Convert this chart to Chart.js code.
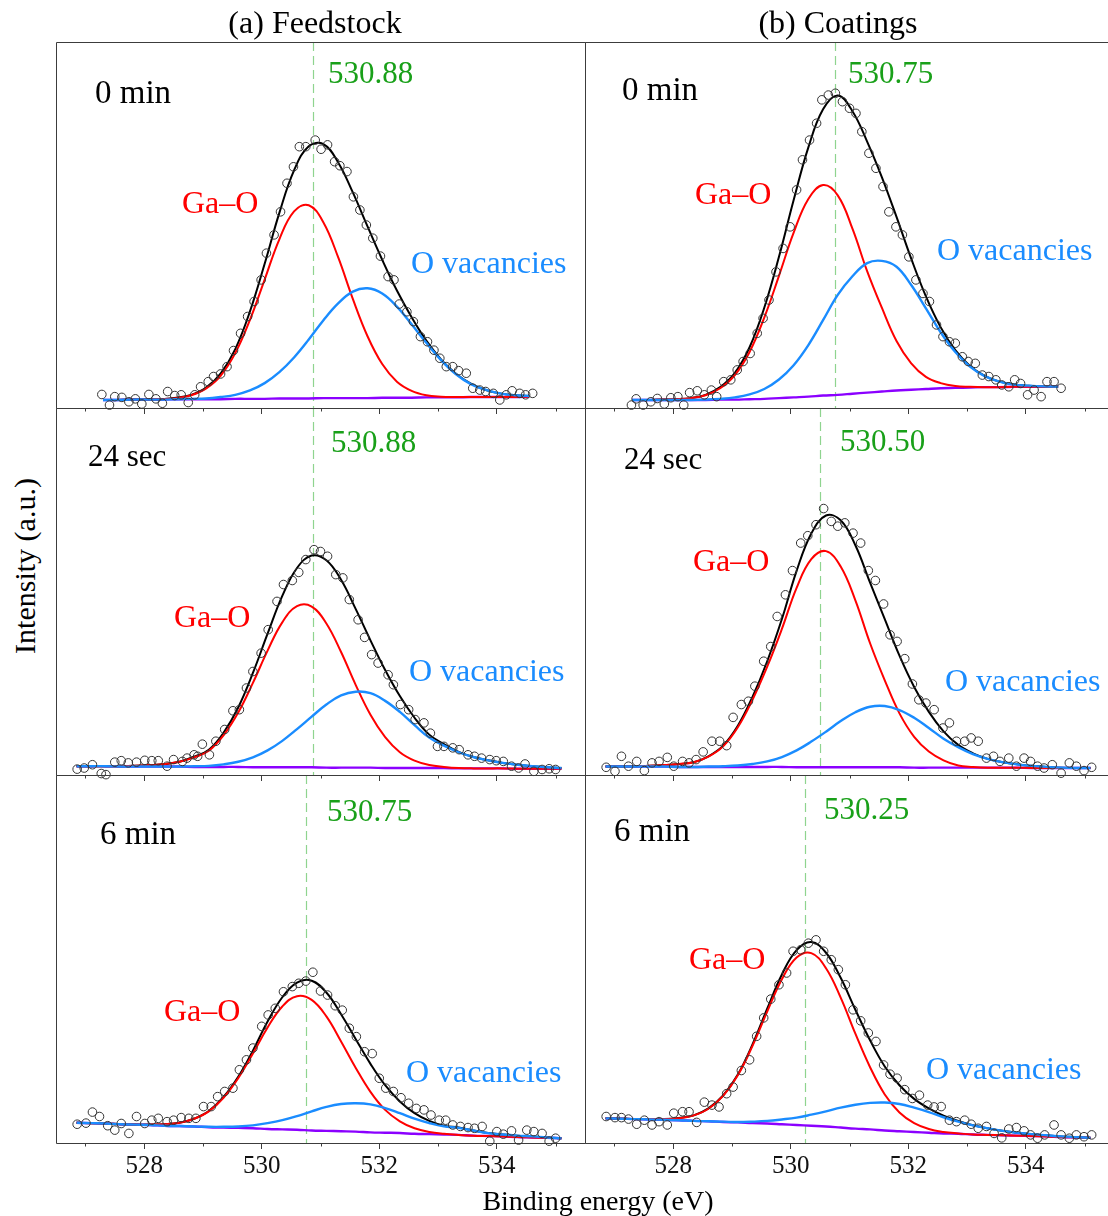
<!DOCTYPE html>
<html>
<head>
<meta charset="utf-8">
<title>O 1s XPS - feedstock vs coatings</title>
<script src="https://cdn.jsdelivr.net/npm/chart.js@4.4.1/dist/chart.umd.min.js"></script>
<style>
  html, body { margin: 0; padding: 0; background: #fff; }
  body { position: relative; width: 1108px; height: 1216px; overflow: hidden;
         font-family: "Liberation Serif", "Times New Roman", serif; }
  canvas { position: absolute; }
  .lbl { position: absolute; white-space: nowrap; line-height: 1; transform: translateY(-50%); }
  .ctr { transform: translate(-50%, -50%); }
</style>
</head>
<body>
<script>
// ---- axis / labels ----
const tickValues = [527, 528, 529, 530, 531, 532, 533, 534, 535];
const tickLabels = [528, 530, 532, 534];
const columnTitles = ['(a) Feedstock', '(b) Coatings'];
const timeLabels = ['0 min', '24 sec', '6 min'];
// order: a-0min, b-0min, a-24sec, b-24sec, a-6min, b-6min
const peakPositions = [530.88, 530.75, 530.88, 530.50, 530.75, 530.25];

// ---- fitted curves, energy grids (eV) ----
const fitEnergyNarrow = [527.30, 527.55, 527.80, 528.05, 528.30, 528.55, 528.80, 529.05, 529.30, 529.55, 529.80, 530.05, 530.30, 530.55, 530.80, 531.05, 531.30, 531.55, 531.80, 532.05, 532.30, 532.55, 532.80, 533.05, 533.30, 533.55, 533.80, 534.05, 534.30, 534.55];
const fitEnergyWide = [526.85, 527.10, 527.35, 527.60, 527.85, 528.10, 528.35, 528.60, 528.85, 529.10, 529.35, 529.60, 529.85, 530.10, 530.35, 530.60, 530.85, 531.10, 531.35, 531.60, 531.85, 532.10, 532.35, 532.60, 532.85, 533.10, 533.35, 533.60, 533.85, 534.10, 534.35, 534.60, 534.85, 535.10];

// (a) feedstock, 0 min
const a0Background = [2.2, 2.2, 2.3, 2.3, 2.3, 2.4, 2.4, 2.4, 2.4, 2.5, 2.5, 2.5, 2.6, 2.6, 2.6, 2.7, 2.7, 2.7, 2.7, 2.8, 2.8, 2.8, 2.9, 2.9, 2.9, 3.0, 3.0, 3.0, 3.0, 3.1];
const a0GaO = [2.2, 2.2, 2.3, 2.3, 2.4, 2.7, 3.5, 5.3, 8.8, 15.0, 24.1, 35.1, 46.1, 53.7, 55.4, 50.7, 41.2, 29.8, 19.6, 12.0, 7.2, 4.7, 3.5, 3.1, 3.0, 3.0, 3.0, 3.0, 3.0, 3.1];
const a0Vacancy = [2.2, 2.2, 2.3, 2.3, 2.3, 2.4, 2.5, 2.6, 3.0, 3.6, 4.8, 6.8, 9.8, 13.8, 18.7, 24.0, 28.6, 31.8, 32.7, 31.3, 27.7, 22.9, 17.8, 13.1, 9.3, 6.6, 5.0, 4.0, 3.5, 3.3];
const a0Envelope = [2.2, 2.2, 2.3, 2.3, 2.4, 2.8, 3.6, 5.5, 9.4, 16.1, 26.4, 39.4, 53.3, 64.9, 71.5, 72.1, 67.1, 58.9, 49.6, 40.5, 32.1, 24.8, 18.4, 13.3, 9.4, 6.7, 5.0, 4.0, 3.5, 3.3];
const a0ScanEnergy = [527.28, 527.41, 527.50, 527.62, 527.74, 527.85, 527.96, 528.08, 528.20, 528.31, 528.40, 528.52, 528.63, 528.75, 528.86, 528.96, 529.09, 529.18, 529.30, 529.41, 529.52, 529.64, 529.76, 529.87, 529.99, 530.08, 530.21, 530.32, 530.43, 530.54, 530.64, 530.75, 530.91, 531.01, 531.12, 531.24, 531.33, 531.45, 531.56, 531.67, 531.78, 531.89, 532.02, 532.15, 532.25, 532.34, 532.47, 532.58, 532.70, 532.82, 532.93, 533.03, 533.14, 533.25, 533.35, 533.48, 533.59, 533.71, 533.81, 533.94, 534.05, 534.16, 534.26, 534.39, 534.49, 534.61];
const a0ScanCounts = [3.7, 0.8, 3.1, 2.9, 1.7, 2.5, 1.1, 3.7, 2.5, 1.3, 4.5, 3.4, 3.6, 1.5, 3.6, 5.8, 7.2, 8.6, 9.3, 11.3, 15.7, 20.4, 25.0, 29.1, 35.0, 42.3, 47.3, 53.6, 61.4, 65.9, 71.4, 71.4, 73.2, 70.7, 71.9, 67.3, 66.2, 64.6, 57.7, 54.1, 50.0, 46.4, 41.5, 35.9, 35.0, 28.4, 26.3, 23.6, 19.5, 18.1, 15.8, 13.6, 11.3, 11.3, 10.2, 9.5, 5.4, 4.9, 4.5, 4.0, 2.2, 3.6, 4.7, 4.0, 3.6, 4.0];

// (b) coatings, 0 min
const b0Background = [2.2, 2.2, 2.2, 2.2, 2.2, 2.2, 2.3, 2.3, 2.4, 2.5, 2.7, 2.9, 3.1, 3.4, 3.6, 3.9, 4.2, 4.5, 4.8, 5.0, 5.2, 5.4, 5.5, 5.6, 5.7, 5.7, 5.8, 5.8, 5.8, 5.8];
const b0GaO = [2.2, 2.2, 2.3, 2.4, 2.7, 3.5, 5.4, 9.0, 15.3, 24.7, 36.1, 47.9, 57.1, 60.9, 58.1, 49.0, 37.4, 27.4, 18.3, 12.2, 8.5, 6.8, 6.0, 5.8, 5.7, 5.7, 5.8, 5.8, 5.8, 5.8];
const b0Vacancy = [2.2, 2.2, 2.2, 2.2, 2.2, 2.3, 2.5, 2.9, 3.7, 5.2, 7.8, 11.7, 17.2, 24.0, 30.9, 36.0, 39.6, 40.2, 38.6, 33.6, 27.2, 20.7, 15.3, 11.3, 8.7, 7.2, 6.4, 6.1, 5.9, 5.8];
const b0Envelope = [2.2, 2.2, 2.3, 2.4, 2.7, 3.6, 5.7, 9.6, 16.6, 27.4, 41.3, 56.8, 71.2, 81.6, 85.4, 81.1, 72.8, 63.1, 52.2, 40.8, 30.5, 22.1, 15.8, 11.5, 8.8, 7.2, 6.4, 6.1, 5.9, 5.8];
const b0ScanEnergy = [527.29, 527.37, 527.49, 527.62, 527.73, 527.85, 527.96, 528.08, 528.18, 528.28, 528.41, 528.53, 528.65, 528.74, 528.86, 528.98, 529.09, 529.19, 529.31, 529.43, 529.53, 529.63, 529.75, 529.87, 529.99, 530.10, 530.20, 530.32, 530.44, 530.53, 530.64, 530.76, 530.88, 531.00, 531.11, 531.21, 531.33, 531.45, 531.57, 531.67, 531.79, 531.90, 532.01, 532.13, 532.25, 532.36, 532.48, 532.59, 532.70, 532.80, 532.92, 533.02, 533.14, 533.26, 533.37, 533.49, 533.59, 533.71, 533.81, 533.91, 534.03, 534.14, 534.26, 534.36, 534.48, 534.60];
const b0ScanCounts = [0.8, 2.5, 0.8, 1.7, 2.6, 1.1, 2.8, 3.1, 0.8, 4.2, 4.7, 3.6, 4.9, 3.1, 7.2, 7.7, 10.4, 12.7, 14.9, 20.4, 24.5, 29.5, 37.2, 43.6, 49.5, 59.6, 67.8, 73.2, 77.8, 84.2, 85.5, 86.0, 83.7, 81.9, 80.5, 75.5, 69.6, 65.5, 60.5, 53.6, 49.5, 47.3, 41.3, 35.0, 31.3, 29.1, 22.7, 19.5, 18.1, 17.7, 14.0, 12.7, 12.2, 9.0, 8.6, 7.7, 6.3, 5.8, 7.7, 6.7, 3.6, 4.9, 3.1, 7.2, 7.2, 5.4];

// (a) feedstock, 24 sec
const a24Background = [2.4, 2.4, 2.4, 2.3, 2.3, 2.3, 2.3, 2.3, 2.2, 2.2, 2.2, 2.2, 2.1, 2.1, 2.1, 2.1, 2.1, 2.0, 2.0, 2.0, 2.0, 1.9, 1.9, 1.9, 1.9, 1.9, 1.8, 1.8, 1.8, 1.8, 1.7, 1.7, 1.7, 1.7];
const a24GaO = [2.4, 2.4, 2.4, 2.4, 2.5, 2.7, 3.0, 3.6, 4.8, 6.6, 10.8, 17.0, 25.1, 33.9, 41.6, 46.0, 45.9, 41.3, 33.5, 24.5, 16.4, 10.3, 6.2, 3.9, 2.7, 2.2, 1.9, 1.8, 1.8, 1.8, 1.7, 1.7, 1.7, 1.7];
const a24Vacancy = [2.4, 2.4, 2.4, 2.3, 2.3, 2.3, 2.3, 2.3, 2.4, 2.5, 2.9, 3.6, 4.8, 6.7, 9.3, 12.5, 15.9, 19.2, 21.7, 22.7, 22.3, 20.2, 17.2, 13.6, 10.2, 8.0, 6.2, 4.9, 4.0, 3.3, 2.8, 2.4, 2.1, 1.9];
const a24Envelope = [2.4, 2.4, 2.4, 2.4, 2.5, 2.7, 3.0, 3.6, 5.0, 6.9, 11.5, 18.4, 27.8, 38.5, 48.8, 56.4, 59.8, 58.5, 53.2, 45.2, 36.7, 28.6, 21.5, 15.6, 11.0, 8.4, 6.3, 4.9, 4.0, 3.3, 2.8, 2.4, 2.1, 1.9];
const a24ScanEnergy = [526.86, 526.98, 527.12, 527.27, 527.35, 527.50, 527.61, 527.73, 527.87, 528.01, 528.13, 528.24, 528.39, 528.50, 528.65, 528.73, 528.85, 528.91, 528.99, 529.11, 529.22, 529.37, 529.51, 529.62, 529.74, 529.85, 529.99, 530.11, 530.26, 530.37, 530.52, 530.63, 530.75, 530.89, 531.00, 531.12, 531.26, 531.38, 531.49, 531.64, 531.75, 531.87, 531.98, 532.15, 532.24, 532.36, 532.50, 532.61, 532.76, 532.87, 532.99, 533.10, 533.25, 533.36, 533.51, 533.62, 533.74, 533.88, 533.99, 534.11, 534.25, 534.37, 534.48, 534.63, 534.77, 534.89, 535.00];
const a24ScanCounts = [1.6, 1.9, 2.8, 0.4, 0.1, 3.5, 3.9, 3.3, 3.5, 4.0, 3.9, 3.9, 2.4, 4.2, 3.7, 4.6, 5.5, 5.1, 8.4, 5.5, 9.2, 12.4, 17.5, 17.8, 23.7, 28.2, 33.2, 39.6, 47.3, 51.9, 53.0, 55.2, 58.7, 61.4, 60.9, 59.6, 54.6, 53.7, 47.8, 42.3, 37.5, 32.8, 30.5, 27.3, 24.6, 19.2, 17.8, 15.1, 14.2, 11.4, 7.8, 7.8, 7.4, 6.9, 5.5, 5.1, 4.6, 4.2, 3.9, 3.7, 2.4, 1.9, 3.0, 1.0, 1.5, 1.7, 1.5];

// (b) coatings, 24 sec
const b24Background = [2.3, 2.3, 2.3, 2.3, 2.3, 2.2, 2.2, 2.2, 2.2, 2.2, 2.2, 2.2, 2.2, 2.1, 2.1, 2.1, 2.1, 2.1, 2.1, 2.1, 2.1, 2.0, 2.0, 2.0, 2.0, 2.0, 2.0, 2.0, 2.0, 1.9, 1.9, 1.9, 1.9, 1.9];
const b24GaO = [2.3, 2.3, 2.4, 2.5, 2.7, 3.0, 3.5, 5.0, 7.8, 13.0, 20.5, 29.5, 39.8, 51.0, 58.8, 61.0, 56.8, 47.6, 35.9, 25.8, 16.8, 10.4, 6.4, 4.0, 2.6, 2.2, 2.0, 2.0, 2.0, 1.9, 1.9, 1.9, 1.9, 1.9];
const b24Vacancy = [2.3, 2.3, 2.3, 2.3, 2.3, 2.2, 2.2, 2.3, 2.4, 2.6, 3.0, 3.7, 4.9, 6.7, 9.1, 11.8, 14.7, 17.1, 18.6, 18.8, 17.7, 15.6, 12.8, 9.9, 7.6, 5.7, 4.4, 3.5, 2.9, 2.5, 2.2, 2.0, 1.9, 1.9];
const b24Envelope = [2.3, 2.3, 2.4, 2.5, 2.7, 3.0, 3.5, 5.1, 8.0, 13.4, 21.3, 31.0, 42.5, 55.6, 65.8, 70.7, 69.4, 62.6, 52.4, 42.5, 32.5, 24.0, 17.2, 11.9, 8.2, 5.9, 4.4, 3.5, 2.9, 2.5, 2.2, 2.0, 1.9, 1.9];
const b24ScanEnergy = [526.86, 527.01, 527.12, 527.24, 527.38, 527.51, 527.64, 527.76, 527.90, 528.01, 528.16, 528.27, 528.39, 528.51, 528.66, 528.79, 528.91, 529.02, 529.16, 529.28, 529.39, 529.54, 529.66, 529.77, 529.91, 530.03, 530.17, 530.29, 530.43, 530.56, 530.69, 530.80, 530.92, 531.06, 531.19, 531.32, 531.44, 531.58, 531.69, 531.81, 531.94, 532.07, 532.18, 532.30, 532.44, 532.59, 532.70, 532.82, 532.96, 533.07, 533.19, 533.33, 533.45, 533.56, 533.71, 533.84, 533.97, 534.08, 534.20, 534.31, 534.45, 534.60, 534.74, 534.86, 534.99, 535.12];
const b24ScanCounts = [2.1, 1.0, 5.1, 2.4, 3.7, 1.2, 3.3, 3.7, 4.8, 2.4, 3.7, 3.3, 4.2, 6.3, 9.2, 9.2, 8.0, 15.7, 19.2, 20.1, 24.2, 31.0, 35.0, 43.2, 49.1, 55.7, 63.2, 65.2, 68.2, 72.6, 69.1, 67.8, 68.7, 65.9, 63.2, 55.7, 53.0, 46.6, 38.2, 36.4, 31.7, 24.8, 20.5, 19.6, 17.8, 12.8, 14.2, 9.2, 9.2, 10.1, 9.2, 4.6, 5.1, 3.7, 4.6, 2.4, 4.6, 3.7, 2.4, 1.9, 2.8, 0.5, 3.3, 2.4, 1.2, 2.1];

// (a) feedstock, 6 min
const a6Background = [5.5, 5.4, 5.3, 5.1, 5.0, 4.9, 4.7, 4.6, 4.5, 4.3, 4.2, 4.1, 4.0, 3.8, 3.7, 3.6, 3.4, 3.3, 3.2, 3.1, 2.9, 2.8, 2.7, 2.5, 2.4, 2.3, 2.2, 2.0, 1.9, 1.8, 1.6, 1.5, 1.4, 1.3];
const a6GaO = [5.5, 5.4, 5.3, 5.1, 5.0, 5.0, 5.1, 5.5, 6.6, 8.6, 12.3, 17.6, 24.3, 31.4, 37.1, 39.9, 38.9, 34.4, 27.6, 20.4, 13.9, 9.0, 5.9, 4.0, 3.0, 2.5, 2.2, 2.0, 1.9, 1.8, 1.6, 1.5, 1.4, 1.3];
const a6Vacancy = [5.5, 5.4, 5.3, 5.1, 5.0, 4.9, 4.7, 4.6, 4.5, 4.4, 4.4, 4.5, 4.8, 5.4, 6.2, 7.3, 8.6, 9.8, 10.6, 10.8, 10.5, 9.5, 8.1, 6.6, 5.4, 4.5, 4.1, 3.4, 2.7, 2.3, 2.0, 1.8, 1.5, 1.3];
const a6Envelope = [5.5, 5.4, 5.3, 5.1, 5.0, 5.0, 5.1, 5.5, 6.6, 8.7, 12.5, 18.0, 25.1, 33.0, 39.6, 43.6, 44.1, 40.9, 35.0, 28.2, 21.5, 15.7, 11.3, 8.1, 6.0, 4.7, 4.2, 3.4, 2.7, 2.3, 2.0, 1.8, 1.5, 1.3];
const a6ScanEnergy = [526.86, 527.01, 527.12, 527.24, 527.38, 527.50, 527.61, 527.74, 527.87, 528.01, 528.13, 528.24, 528.39, 528.50, 528.63, 528.76, 528.88, 529.01, 529.14, 529.25, 529.37, 529.51, 529.62, 529.74, 529.85, 530.00, 530.11, 530.23, 530.37, 530.52, 530.63, 530.75, 530.87, 531.00, 531.12, 531.25, 531.37, 531.49, 531.61, 531.75, 531.88, 532.00, 532.11, 532.24, 532.37, 532.50, 532.63, 532.76, 532.88, 533.02, 533.13, 533.25, 533.38, 533.51, 533.62, 533.75, 533.88, 534.00, 534.11, 534.25, 534.37, 534.51, 534.63, 534.77, 534.89, 535.00];
const a6ScanCounts = [5.1, 5.4, 8.4, 7.2, 4.7, 3.5, 5.3, 2.6, 7.2, 5.3, 6.2, 6.7, 5.8, 6.2, 6.9, 6.7, 6.7, 9.9, 9.9, 12.6, 14.0, 14.9, 19.9, 22.6, 25.8, 31.7, 34.8, 36.6, 41.1, 42.5, 43.4, 44.0, 46.4, 41.3, 40.2, 37.3, 36.1, 31.2, 28.9, 24.8, 24.3, 17.6, 14.9, 14.0, 12.3, 10.8, 9.4, 9.0, 7.6, 6.2, 6.2, 4.9, 4.5, 4.2, 4.0, 4.5, 0.5, 3.1, 2.4, 3.3, 0.8, 3.5, 3.1, 2.6, 0.5, 1.3];

// (b) coatings, 6 min
const b6Background = [6.7, 6.6, 6.5, 6.4, 6.3, 6.2, 6.0, 5.9, 5.7, 5.6, 5.4, 5.3, 5.1, 4.9, 4.7, 4.5, 4.2, 3.9, 3.7, 3.4, 3.2, 3.0, 2.8, 2.6, 2.5, 2.3, 2.2, 2.1, 2.0, 1.9, 1.8, 1.6, 1.5, 1.4];
const b6GaO = [6.7, 6.6, 6.5, 6.5, 6.5, 6.7, 7.5, 9.3, 12.8, 18.4, 26.4, 35.7, 44.5, 50.4, 51.6, 47.5, 39.5, 29.7, 20.6, 13.2, 8.3, 5.4, 3.8, 3.0, 2.6, 2.3, 2.2, 2.1, 2.0, 1.9, 1.8, 1.6, 1.5, 1.4];
const b6Vacancy = [6.7, 6.6, 6.5, 6.4, 6.3, 6.2, 6.0, 5.9, 5.8, 5.7, 5.8, 6.0, 6.4, 6.9, 7.7, 8.6, 9.6, 10.4, 10.9, 11.0, 10.6, 9.6, 8.4, 7.0, 5.8, 4.8, 4.0, 3.3, 2.8, 2.4, 2.1, 1.8, 1.6, 1.4];
const b6Envelope = [6.7, 6.6, 6.5, 6.5, 6.5, 6.8, 7.5, 9.4, 12.9, 18.6, 26.8, 36.5, 45.8, 52.4, 54.6, 51.7, 44.9, 36.2, 27.9, 20.8, 15.7, 12.0, 9.4, 7.4, 6.0, 4.8, 4.0, 3.3, 2.8, 2.4, 2.1, 1.8, 1.6, 1.4];
const b6ScanEnergy = [526.86, 527.01, 527.12, 527.24, 527.38, 527.51, 527.64, 527.76, 527.90, 528.01, 528.16, 528.27, 528.40, 528.53, 528.66, 528.78, 528.91, 529.02, 529.16, 529.30, 529.42, 529.54, 529.66, 529.80, 529.93, 530.04, 530.17, 530.30, 530.43, 530.56, 530.69, 530.81, 530.93, 531.06, 531.19, 531.32, 531.45, 531.58, 531.69, 531.81, 531.94, 532.07, 532.19, 532.33, 532.44, 532.56, 532.70, 532.82, 532.96, 533.07, 533.19, 533.33, 533.46, 533.59, 533.71, 533.84, 533.97, 534.08, 534.20, 534.32, 534.48, 534.60, 534.74, 534.86, 534.99, 535.12];
const b6ScanCounts = [7.2, 6.9, 6.9, 6.5, 5.1, 6.2, 4.9, 5.8, 4.9, 8.1, 8.5, 8.5, 5.6, 11.1, 10.3, 9.8, 13.4, 15.2, 19.7, 22.6, 29.0, 34.0, 39.1, 43.0, 46.2, 52.1, 52.5, 54.3, 55.2, 52.1, 49.8, 47.1, 43.0, 36.2, 33.2, 29.9, 27.6, 21.2, 18.7, 17.6, 14.5, 12.1, 13.0, 10.3, 9.8, 9.9, 6.2, 5.8, 6.2, 5.1, 4.0, 4.5, 2.6, 1.4, 3.8, 4.2, 3.3, 2.2, 1.3, 2.2, 4.9, 2.2, 1.3, 2.2, 1.7, 2.2];

// ---- layout ----
const colLeft = [56, 585];
const rowTop = [42, 408, 775];
const rowHeight = [366, 367, 368];
const plotWidth = 529;

const colors = {
    scan: '#333333',
    envelope: '#000000',
    gao: '#ff0000',
    vacancy: '#1a8cff',
    background: '#8b00ff',
    peakLine: '#8fd48f',
    peakText: '#19a019',
    frame: '#3c3c3c'
};

const panels = [
    { col: 0, row: 0, fitE: fitEnergyNarrow, bg: a0Background, gao: a0GaO, vac: a0Vacancy, env: a0Envelope, scanE: a0ScanEnergy, scanI: a0ScanCounts },
    { col: 1, row: 0, fitE: fitEnergyNarrow, bg: b0Background, gao: b0GaO, vac: b0Vacancy, env: b0Envelope, scanE: b0ScanEnergy, scanI: b0ScanCounts },
    { col: 0, row: 1, fitE: fitEnergyWide, bg: a24Background, gao: a24GaO, vac: a24Vacancy, env: a24Envelope, scanE: a24ScanEnergy, scanI: a24ScanCounts },
    { col: 1, row: 1, fitE: fitEnergyWide, bg: b24Background, gao: b24GaO, vac: b24Vacancy, env: b24Envelope, scanE: b24ScanEnergy, scanI: b24ScanCounts },
    { col: 0, row: 2, fitE: fitEnergyWide, bg: a6Background, gao: a6GaO, vac: a6Vacancy, env: a6Envelope, scanE: a6ScanEnergy, scanI: a6ScanCounts },
    { col: 1, row: 2, fitE: fitEnergyWide, bg: b6Background, gao: b6GaO, vac: b6Vacancy, env: b6Envelope, scanE: b6ScanEnergy, scanI: b6ScanCounts }
];

// page positions of the in-panel labels: [left, centreY]
const labelSpots = [
    { time: [95, 92, 33], peak: [328, 72], gao: [182, 202], vac: [411, 262] },
    { time: [622, 89, 33], peak: [848, 72], gao: [695, 193], vac: [937, 249] },
    { time: [88, 455, 31], peak: [331, 441], gao: [174, 616], vac: [409, 670] },
    { time: [624, 458, 31], peak: [840, 440], gao: [693, 560], vac: [945, 680] },
    { time: [100, 833, 33], peak: [327, 810], gao: [164, 1010], vac: [406, 1071] },
    { time: [614, 830, 33], peak: [824, 808], gao: [689, 958], vac: [926, 1068] }
];

Chart.defaults.font.family = '"Liberation Serif", "Times New Roman", serif';
Chart.defaults.animation = false;

function addText(txt, x, y, size, color, extraClass, rotate) {
    const d = document.createElement('div');
    d.className = 'lbl' + (extraClass ? ' ' + extraClass : '');
    d.textContent = txt;
    d.style.left = x + 'px';
    d.style.top = y + 'px';
    d.style.fontSize = size + 'px';
    d.style.color = color;
    if (rotate) {
        d.style.transform = 'translate(-50%, -50%) rotate(-90deg)';
    }
    document.body.appendChild(d);
}

function toPoints(xs, ys) {
    return xs.map((x, i) => ({ x: x, y: ys[i] }));
}

const panelPlugin = {
    id: 'panelDecor',
    beforeDatasetsDraw(chart, args, opts) {
        const { ctx, chartArea: a, scales: { x } } = chart;
        ctx.save();
        // peak position marker
        const px = Math.round(x.getPixelForValue(opts.peak)) + 0.5;
        ctx.strokeStyle = colors.peakLine;
        ctx.lineWidth = 1.2;
        ctx.setLineDash([9, 5]);
        ctx.beginPath();
        ctx.moveTo(px, a.top);
        ctx.lineTo(px, a.bottom);
        ctx.stroke();
        ctx.setLineDash([]);
        // frame and minor ticks
        ctx.strokeStyle = colors.frame;
        ctx.lineWidth = 1;
        ctx.beginPath();
        ctx.rect(a.left + 0.5, a.top + 0.5, a.right - a.left, a.bottom - a.top);
        tickValues.forEach(v => {
            if (tickLabels.includes(v)) return;
            const tx = Math.round(x.getPixelForValue(v)) + 0.5;
            ctx.moveTo(tx, a.bottom);
            ctx.lineTo(tx, a.bottom + 3.5);
        });
        ctx.stroke();
        ctx.restore();
    }
};

panels.forEach((p, i) => {
    const isBottom = p.row === 2;
    const axisH = isBottom ? 44 : 8;
    const canvas = document.createElement('canvas');
    canvas.width = plotWidth + 1;
    canvas.height = rowHeight[p.row] + axisH;
    canvas.style.left = colLeft[p.col] + 'px';
    canvas.style.top = rowTop[p.row] + 'px';
    document.body.appendChild(canvas);

    const line = (ys, color, width, order) => ({
        data: toPoints(p.fitE, ys),
        showLine: true,
        borderColor: color,
        borderWidth: width,
        pointRadius: 0,
        tension: 0.4,
        fill: false,
        order: order
    });

    new Chart(canvas.getContext('2d'), {
        type: 'scatter',
        data: {
            datasets: [
                line(p.bg, colors.background, 2.4, 5),
                line(p.env, colors.envelope, 2, 4),
                line(p.gao, colors.gao, 2, 3),
                line(p.vac, colors.vacancy, 2.4, 2),
                {
                    data: toPoints(p.scanE, p.scanI),
                    pointRadius: 4.3,
                    pointBorderWidth: 1,
                    pointBorderColor: colors.scan,
                    pointBackgroundColor: 'rgba(0,0,0,0)',
                    clip: false,
                    order: 1
                }
            ]
        },
        options: {
            responsive: false,
            devicePixelRatio: 1,
            layout: { autoPadding: false, padding: { left: 0, right: 1, top: 0, bottom: 0 } },
            plugins: {
                legend: { display: false },
                tooltip: { enabled: false },
                panelDecor: { peak: peakPositions[i] }
            },
            scales: {
                x: {
                    type: 'linear',
                    min: 526.5,
                    max: 535.5,
                    afterBuildTicks: s => { s.ticks = tickValues.map(v => ({ value: v })); },
                    afterFit: s => { s.height = axisH; },
                    border: { display: false },
                    grid: {
                        drawOnChartArea: false,
                        drawTicks: true,
                        tickLength: 6,
                        tickWidth: 1,
                        tickColor: c => (c.tick && tickLabels.includes(c.tick.value)) ? colors.frame : 'rgba(0,0,0,0)'
                    },
                    ticks: {
                        display: isBottom,
                        autoSkip: false,
                        maxRotation: 0,
                        padding: 2,
                        color: '#111',
                        font: { size: 25 },
                        callback: v => tickLabels.includes(v) ? String(v) : ''
                    }
                },
                y: { display: false, min: 0, max: 100 }
            }
        },
        plugins: [panelPlugin]
    });

    const s = labelSpots[i];
    addText(timeLabels[p.row], s.time[0], s.time[1], s.time[2], '#000');
    addText(peakPositions[i].toFixed(2), s.peak[0], s.peak[1], 31, colors.peakText);
    addText('Ga\u2013O', s.gao[0], s.gao[1], 32, colors.gao);
    addText('O vacancies', s.vac[0], s.vac[1], 32, colors.vacancy);
});

addText(columnTitles[0], 315, 22, 32, '#000', 'ctr');
addText(columnTitles[1], 838, 22, 32, '#000', 'ctr');
addText('Binding energy (eV)', 598, 1201, 28, '#000', 'ctr');
addText('Intensity (a.u.)', 25, 566, 30, '#000', null, true);
</script>
</body>
</html>
